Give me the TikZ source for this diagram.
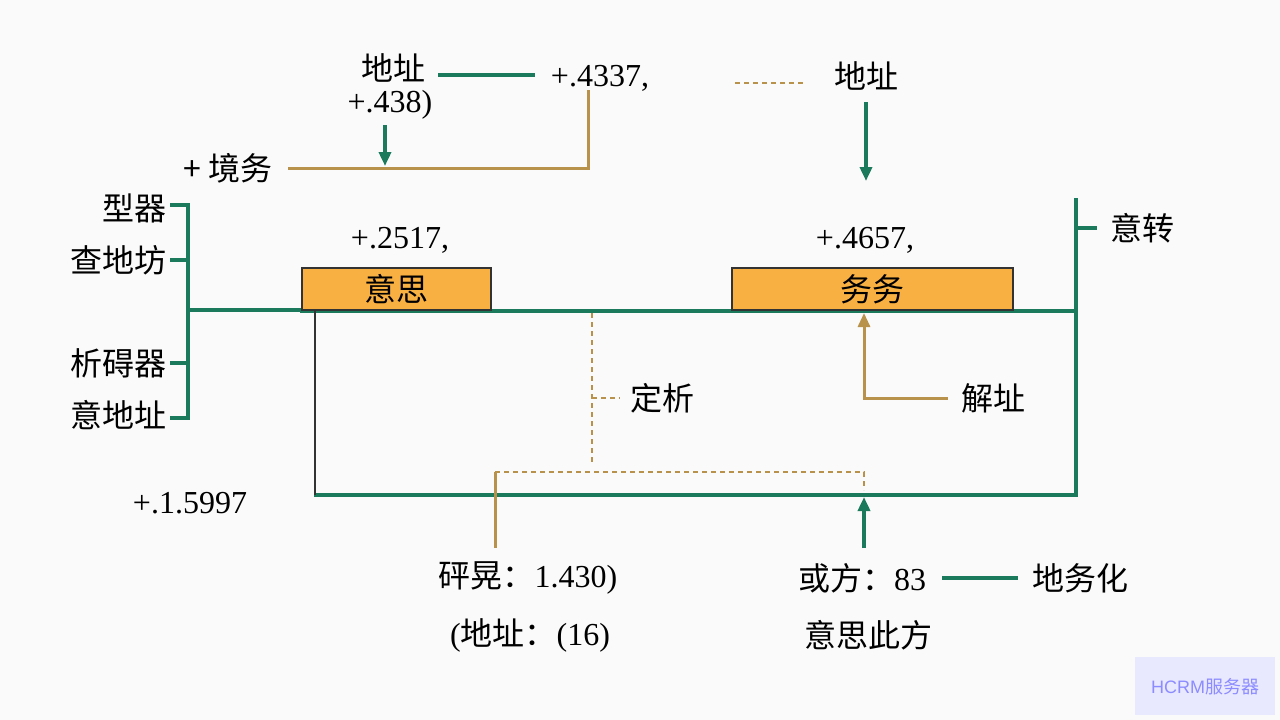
\documentclass[tikz,border=0pt]{standalone}
\usepackage{fontspec}
\setmainfont{Liberation Serif}
\newfontfamily\cjk{Noto Sans CJK SC}
\usetikzlibrary{arrows.meta}
\definecolor{gr}{HTML}{1B7A5C}
\definecolor{gd}{HTML}{B8914A}
\definecolor{bx}{HTML}{F9B042}
\tikzset{x=1pt,y=-1pt,
 t/.style={font=\cjk\fontsize{32}{34}\selectfont,inner sep=0pt},
 n/.style={font=\fontsize{32}{34}\selectfont,inner sep=0pt},
 g/.style={draw=gr,line width=3.5pt},
 o/.style={draw=gd,line width=3pt},
 od/.style={draw=gd,line width=2.2pt,dash pattern=on 5pt off 4pt},
 box/.style={draw=black!80,line width=2pt,fill=bx,font=\cjk\fontsize{32}{34}\selectfont,inner sep=0pt},
 arr/.style={-{Triangle[length=14pt,width=12pt]}}}
\begin{document}
\begin{tikzpicture}
\fill[gray!4] (0,0) rectangle (1280,720);
% top
\node[t] (a1) at (393,68) {地址};
\node[n] (a2) at (390,105) {+.438)};
\node[n] (a3) at (600,78) {+.4337,};
\node[t] (a4) at (228,168) {+ 境务};
\draw[g] (438,75) -- (535,75);
\draw[o] (588,90) -- (588,168) -- (288,168);
\draw[g,arr] (385,125) -- (385,166);
\draw[od] (735,83) -- (805,83);
\node[t] (a5) at (866,76) {地址};
\draw[g,arr] (866,102) -- (866,181);
% left
\node[t,anchor=east] (l1) at (167,208) {型器};
\node[t,anchor=east] (l2) at (167,260) {查地坊};
\node[t,anchor=east] (l3) at (167,363) {析碍器};
\node[t,anchor=east] (l4) at (167,415) {意地址};
\draw[g] (170,205) -- (188,205) -- (188,418) -- (170,418);
\draw[g] (170,260) -- (188,260) (170,363) -- (188,363) (188,310) -- (302,310);
% main
\draw[g] (300,311) -- (1076,311);
\draw[g] (1076,198) -- (1076,495) -- (314,495);
\draw[g] (1076,228) -- (1097,228);
\node[t] (r1) at (1142,228) {意转};
\draw[draw=black!80,line width=2.5pt] (315,311) -- (315,495);
\node[box,minimum width=189pt,minimum height=42pt] (b1) at (396.5,289) {意思};
\node[box,minimum width=281pt,minimum height=42pt] (b2) at (872.5,289) {务务};
\node[n] (p1) at (400,240) {+.2517,};
\node[n] (p2) at (865,240) {+.4657,};
% inner
\draw[od] (592,313) -- (592,462);
\draw[od] (592,398) -- (620,398);
\node[t] (d1) at (662,398) {定析};
\draw[o,arr] (948,398) -- (864,398) -- (864,313);
\node[t] (d2) at (993,398) {解址};
\draw[od] (495,472) -- (864,472) -- (864,490);
\draw[o] (495,472) -- (495,548);
\draw[g,arr] (864,548) -- (864,497);
\node[n] (q1) at (190,503) {+.1.5997};
% bottom
\node[t] (c1) at (528,578) {砰晃：\fontspec{Liberation Serif}1.430)};
\node[t] (c2) at (530,635) {\fontspec{Liberation Serif}(\cjk 地址：\fontspec{Liberation Serif}(16)};
\node[t] (c3) at (862,578) {或方：\fontspec{Liberation Serif}83};
\draw[g] (942,578) -- (1018,578);
\node[t] (c4) at (1080,578) {地务化};
\node[t] (c5) at (868,635) {意思此方};
% watermark
\fill[blue!9] (1135,657) rectangle (1275,715);
\node[font=\fontspec{Liberation Sans}\fontsize{18}{20}\selectfont,text=blue!45!white] (w) at (1205,687) {HCRM\cjk 服务器};
\end{tikzpicture}
\end{document}
